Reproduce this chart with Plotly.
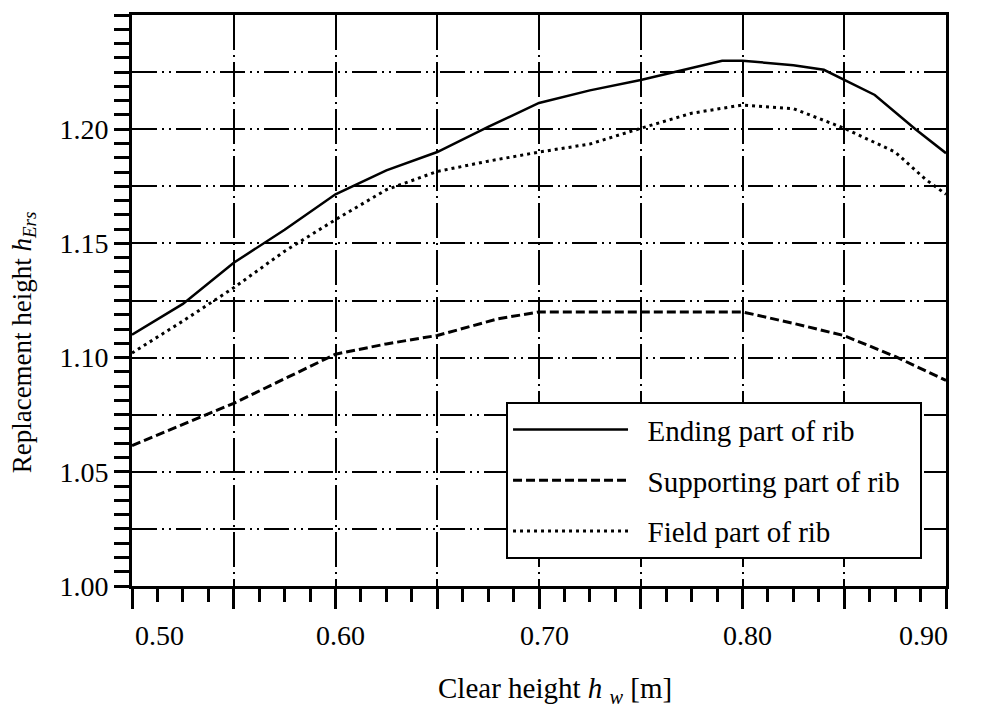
import plotly.graph_objects as go

# ---- data ----
x_end = [0.50, 0.525, 0.55, 0.575, 0.60, 0.625, 0.65, 0.675, 0.70, 0.725, 0.75, 0.775, 0.79, 0.80, 0.825, 0.84, 0.85, 0.865, 0.885, 0.90]
y_end = [1.110, 1.1235, 1.1415, 1.156, 1.1715, 1.182, 1.190, 1.201, 1.2115, 1.217, 1.2215, 1.227, 1.230, 1.230, 1.228, 1.226, 1.2215, 1.215, 1.200, 1.1895]

x_sup = [0.50, 0.55, 0.60, 0.625, 0.65, 0.665, 0.68, 0.70, 0.75, 0.80, 0.825, 0.85, 0.875, 0.90]
y_sup = [1.0615, 1.080, 1.1015, 1.106, 1.1097, 1.1134, 1.117, 1.120, 1.120, 1.120, 1.115, 1.1096, 1.1005, 1.090]

x_fld = [0.50, 0.525, 0.55, 0.575, 0.60, 0.625, 0.65, 0.675, 0.70, 0.725, 0.75, 0.775, 0.80, 0.825, 0.85, 0.875, 0.89, 0.90]
y_fld = [1.102, 1.116, 1.1306, 1.1466, 1.1604, 1.1735, 1.1815, 1.186, 1.190, 1.1935, 1.2004, 1.207, 1.2106, 1.209, 1.2004, 1.190, 1.178, 1.1715]

series_names = ["Ending part of rib", "Supporting part of rib", "Field part of rib"]

x_tick_vals = [0.50, 0.60, 0.70, 0.80, 0.90]
x_tick_text = ["0.50", "0.60", "0.70", "0.80", "0.90"]
y_tick_vals = [1.00, 1.05, 1.10, 1.15, 1.20, 1.25]
y_tick_text = ["1.00", "1.05", "1.10", "1.15", "1.20", "1.25"]

x_title = "Clear height <i>h</i> <sub><i>w</i></sub> [m]"
y_title = "Replacement height <i>h</i><sub><i>Ers</i></sub>"

FONT = "Liberation Serif, Times New Roman, Times, serif"
BLACK = "#000000"
PAD = "\u00a0\u00a0"

fig = go.Figure()
fig.add_trace(go.Scatter(x=x_end, y=y_end, mode="lines", name=PAD + series_names[0] + PAD, legendgroup="a",
                         line=dict(color=BLACK, width=2.5)))
fig.add_trace(go.Scatter(x=x_sup, y=y_sup, mode="lines", name=PAD + series_names[1] + PAD, legendgroup="b",
                         line=dict(color=BLACK, width=3, dash="9px,4px")))
# the field curve lives on the overlaid (matched) y axis that carries the 0.025 grid
fig.add_trace(go.Scatter(x=x_fld, y=y_fld, mode="lines", name=PAD + series_names[2] + PAD, legendgroup="c",
                         yaxis="y2", line=dict(color=BLACK, width=3, dash="3px,4px")))

grid_common = dict(gridcolor=BLACK, gridwidth=1.5, zeroline=False)

fig.update_layout(
    width=984, height=711,
    margin=dict(l=132, r=38, t=13, b=125),
    paper_bgcolor="white", plot_bgcolor="white",
    font=dict(family=FONT, size=29, color=BLACK),
    showlegend=True,
    legend=dict(x=0.4595, y=0.047, xanchor="left", yanchor="bottom",
                bgcolor="white", bordercolor=BLACK, borderwidth=2,
                font=dict(family=FONT, size=29, color=BLACK),
                itemwidth=115, tracegroupgap=10),
    xaxis=dict(range=[0.5, 0.9], tickmode="linear", tick0=0.5, dtick=0.05,
               showticklabels=False, ticks="outside", ticklen=20, tickwidth=3, tickcolor=BLACK,
               showline=True, linewidth=3, linecolor=BLACK, mirror=True,
               showgrid=True, griddash="35px,5px,2px,5px", **grid_common,
               minor=dict(dtick=0.0125, tick0=0.5, ticks="outside", ticklen=13, tickwidth=3,
                          tickcolor=BLACK, showgrid=False)),
    yaxis=dict(range=[1.0, 1.25], tickmode="array", tickvals=y_tick_vals, ticktext=y_tick_text,
               ticks="outside", ticklen=15, tickwidth=3, tickcolor=BLACK,
               showline=True, linewidth=3, linecolor=BLACK, mirror=True,
               showgrid=False, zeroline=False, tickfont=dict(family=FONT, size=28),
               minor=dict(dtick=0.00625, tick0=1.0, ticks="outside", ticklen=15, tickwidth=3,
                          tickcolor=BLACK, showgrid=False)),
    yaxis2=dict(overlaying="y", matches="y", range=[1.0, 1.25], tickmode="linear", tick0=1.0, dtick=0.025,
                showticklabels=False, ticks="", showline=False,
                showgrid=True, griddash="25px,5px,2px,5px,2px,5px", **grid_common),
)

# x tick labels (edge labels kept inside the frame as in the reference)
for v, t in zip(x_tick_vals, x_tick_text):
    if v == x_tick_vals[0]:
        anchor, shift = "left", 1
    elif v == x_tick_vals[-1]:
        anchor, shift = "right", 4
    else:
        anchor, shift = "center", 5
    fig.add_annotation(x=v, y=-0.0873, xref="x", yref="paper", text=t, showarrow=False,
                       xanchor=anchor, yanchor="middle", xshift=shift,
                       font=dict(family=FONT, size=28, color=BLACK))

fig.add_annotation(x=0.5197, y=-0.1815, xref="paper", yref="paper", text=x_title, showarrow=False,
                   xanchor="center", yanchor="middle", font=dict(family=FONT, size=29, color=BLACK))
fig.add_annotation(x=-0.1327, y=0.4267, xref="paper", yref="paper", text=y_title, showarrow=False,
                   textangle=-90, xanchor="center", yanchor="middle",
                   font=dict(family=FONT, size=27, color=BLACK))

fig.write_html("out.html")
